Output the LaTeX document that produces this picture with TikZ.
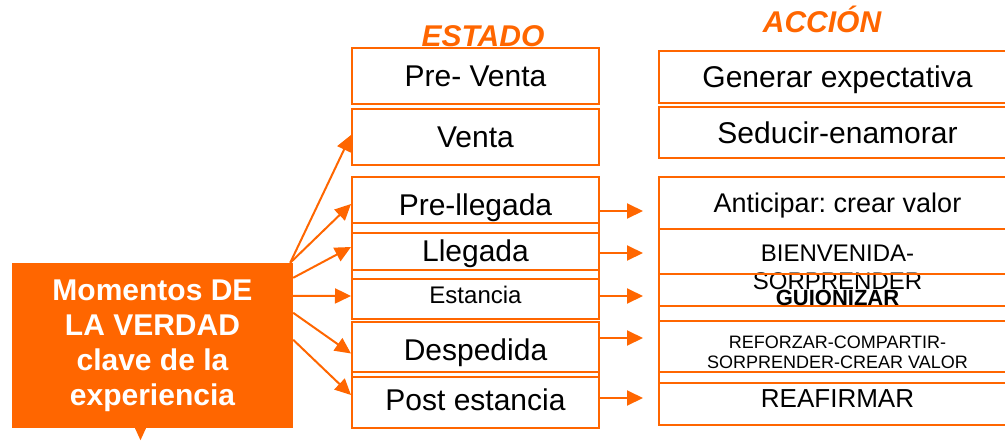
\documentclass[tikz,border=0pt]{standalone}
\usepackage{fontspec}
\setmainfont{Liberation Sans}
\usepackage{xcolor}
\usepackage{tikz}
\usetikzlibrary{arrows.meta}
\definecolor{naranja}{HTML}{FF6600}
\frenchspacing

\begin{document}
\begin{tikzpicture}[x=1pt,y=-1pt,
    estbox/.style={draw=naranja,line width=2pt,minimum width=247pt,inner sep=0pt,text depth=0pt,font=\fontsize{30}{34}\selectfont},
    accbox/.style={draw=naranja,line width=2pt,minimum width=357pt,inner sep=0pt,text depth=0pt,align=center,font=\fontsize{30}{34}\selectfont},
    flecha/.style={draw=naranja,line width=2pt,-{Triangle[length=16pt,width=15pt]}},
    titulo/.style={text=naranja,font=\fontsize{30}{34}\selectfont\bfseries\itshape}]
    \useasboundingbox (0,0) rectangle (1005,440);
    \node[titulo] (estado) at (483,36) {ESTADO};
    \node[titulo] (accion) at (822,19) {ACCIÓN};
    \node[estbox,minimum height=56pt] (preventa) at (475.5,76) {Pre- Venta};
    \node[estbox,minimum height=56pt] (venta) at (475.5,137) {Venta};
    \node[estbox,minimum height=56pt] (prell) at (475.5,205) {Pre-llegada};
    \node[estbox,minimum height=56pt] (lleg) at (475.5,251) {Llegada};
    \node[estbox,minimum height=49pt,font=\fontsize{24}{28}\selectfont] (estan) at (475.5,294.5) {Estancia};
    \node[estbox,minimum height=55pt] (desp) at (475.5,349.5) {Despedida};
    \node[estbox,minimum height=56pt] (post) at (475.5,400) {Post estancia};
    \node[accbox,minimum height=52pt] (gen) at (837.5,77) {Generar expectativa};
    \node[accbox,minimum height=51pt] (sed) at (837.5,132.5) {Seducir-enamorar};
    \node[accbox,minimum height=52pt,font=\fontsize{27}{31}\selectfont] (antic) at (837.5,203) {Anticipar: crear valor};
    \node[accbox,minimum height=77pt,font=\fontsize{24}{28}\selectfont] (bienv) at (837.5,267.5) {BIENVENIDA-\\SORPRENDER};
    \node[accbox,minimum height=47pt,font=\fontsize{22}{26}\selectfont\bfseries] (guion) at (837.5,297.5) {GUIONIZAR};
    \node[accbox,minimum height=62pt,font=\fontsize{18}{20}\selectfont] (refor) at (837.5,352) {REFORZAR-COMPARTIR-\\SORPRENDER-CREAR VALOR};
    \node[accbox,minimum height=53pt,font=\fontsize{26}{30}\selectfont] (reaf) at (837.5,398.5) {REAFIRMAR};
    \node[fill=naranja,text=white,minimum width=281pt,minimum height=165pt,align=center,
        font=\fontsize{30}{35}\selectfont\bfseries] (mom) at (152.5,345.5) {Momentos DE\\LA VERDAD\\clave de la\\experiencia};
    \fill[naranja] ([xshift=-17.5pt]mom.south) -- ([xshift=-6.5pt]mom.south) -- ([xshift=-12pt,yshift=-12pt]mom.south) -- cycle;
    \draw[flecha] ([xshift=-3pt]mom.north east) -- ([yshift=2pt]venta.west);
    \draw[flecha] ([xshift=-3pt]mom.north east) -- ([yshift=1pt]prell.west);
    \draw[flecha] ([yshift=-15pt]mom.north east) -- ([yshift=4pt]lleg.west);
    \draw[flecha] ([yshift=-33pt]mom.north east) -- ([yshift=-1.5pt]estan.west);
    \draw[flecha] ([yshift=-50pt]mom.north east) -- ([yshift=-4pt]desp.west);
    \draw[flecha] ([yshift=-77pt]mom.north east) -- ([yshift=5pt]post.west);
    \draw[flecha] ([yshift=-6pt]prell.east) -- +(43,0);
    \draw[flecha] ([yshift=-2pt]lleg.east) -- +(43,0);
    \draw[flecha] ([yshift=-1.5pt]estan.east) -- +(43,0);
    \draw[flecha] ([yshift=11.5pt]desp.east) -- +(43,0);
    \draw[flecha] ([yshift=2pt]post.east) -- +(43,0);
\end{tikzpicture}
\end{document}
